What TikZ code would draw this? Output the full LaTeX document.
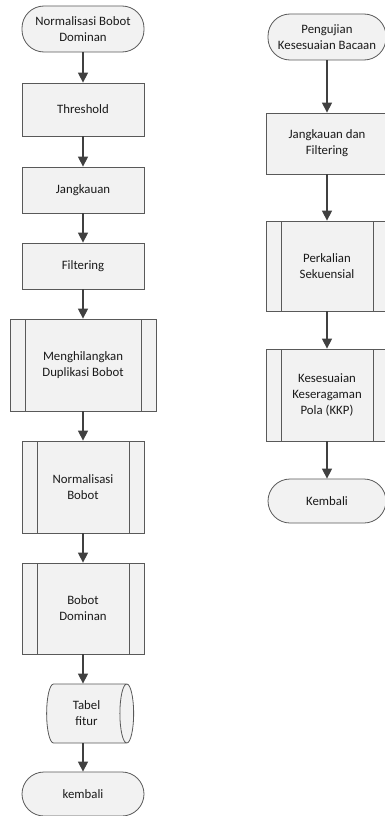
\documentclass[tikz,border=0pt]{standalone}
\usepackage{fontspec}
\setmainfont{Carlito}
\usetikzlibrary{arrows.meta,shapes.geometric}

\definecolor{boxfill}{HTML}{F2F2F2}
\definecolor{boxline}{HTML}{595959}
\definecolor{arrowcol}{HTML}{404040}
\definecolor{textcol}{HTML}{1A1A1A}

\tikzset{
  base/.style={draw=boxline, fill=boxfill, line width=0.8pt, align=center,
    font=\fontsize{12.8}{16}\selectfont, text=textcol, inner sep=0pt},
  terminal/.style={base, rectangle, rounded corners=22pt, minimum width=122pt, minimum height=46pt},
  process/.style={base, rectangle, minimum width=122pt},
  subproc/.style={process, path picture={
    \draw[boxline, line width=0.8pt]
      ([xshift=15pt]path picture bounding box.north west) -- ([xshift=15pt]path picture bounding box.south west)
      ([xshift=-15pt]path picture bounding box.north east) -- ([xshift=-15pt]path picture bounding box.south east);}},
  storage/.style={base, cylinder, aspect=0.55, minimum width=59pt, minimum height=87pt},
  arrow/.style={-{Triangle[length=10pt,width=10pt]}, line width=1.4pt, draw=arrowcol}
}

\begin{document}
\begin{tikzpicture}[x=1pt, y=-1pt]
      \useasboundingbox (0,0) rectangle (385,816);

      % Left column
      \node[terminal] (start1) at (83,29) {Normalisasi Bobot\\Dominan};
      \node[process, minimum height=53pt] (thresh) at (83,109.5) {Threshold};
      \node[process, minimum height=46pt] (jangk) at (83,190) {Jangkauan};
      \node[process, minimum height=46pt] (filter) at (83,266) {Filtering};
      \node[subproc, minimum width=146pt, minimum height=92pt] (dupli) at (83,365) {Menghilangkan\\Duplikasi Bobot};
      \node[subproc, minimum height=92pt] (normbob) at (83,487) {Normalisasi\\Bobot};
      \node[subproc, minimum height=91pt] (bobdom) at (83,608.5) {Bobot\\Dominan};
      \node[storage] (tabel) at (86.5,713.5) {Tabel\\fitur};
      \node[terminal, minimum height=44pt] (kemb1) at (83,794) {kembali};

      % Right column
      \node[terminal, minimum width=118pt] (start2) at (327,37) {Pengujian\\Kesesuaian Bacaan};
      \node[process, minimum height=61pt] (jdf) at (327,143.5) {Jangkauan dan\\Filtering};
      \node[subproc, minimum height=90pt] (perk) at (327,266) {Perkalian\\Sekuensial};
      \node[subproc, minimum height=92pt] (kkp) at (327,395) {Kesesuaian\\Keseragaman\\Pola (KKP)};
      \node[terminal, minimum width=118pt, minimum height=44pt] (kemb2) at (327,501) {Kembali};

      % Draw the arrows
      \foreach \a/\b in {start1/thresh, thresh/jangk, jangk/filter, filter/dupli,
                         dupli/normbob, normbob/bobdom, bobdom/tabel, tabel/kemb1}
        \draw[arrow] (\a.south -| start1) -- (\b.north -| start1);
      \foreach \a/\b in {start2/jdf, jdf/perk, perk/kkp, kkp/kemb2}
        \draw[arrow] (\a.south -| start2) -- (\b.north -| start2);
\end{tikzpicture}
\end{document}
